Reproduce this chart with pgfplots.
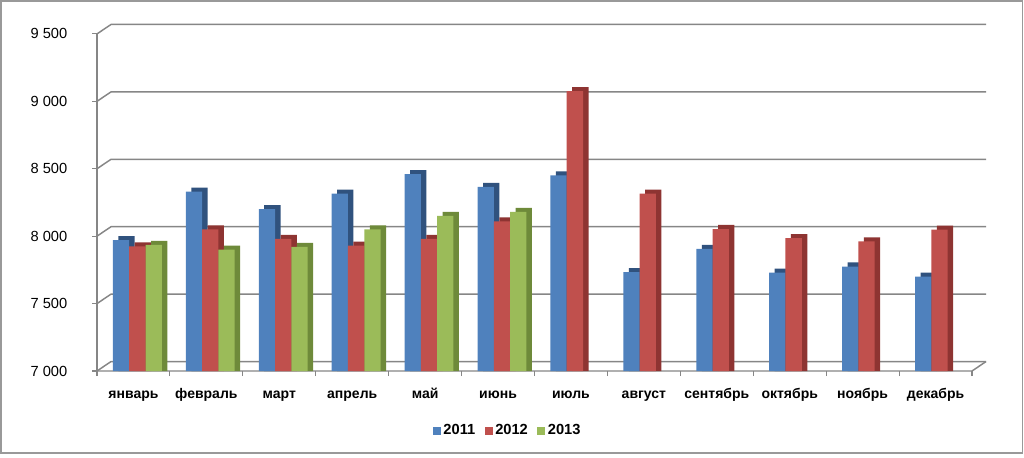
\documentclass[border=0pt]{standalone}
\usepackage{fontspec}
\setmainfont{Liberation Sans}
\usepackage{pgfplots}
\usepackage{pgfplotstable}
\pgfplotsset{compat=1.18}
\definecolor{bA}{HTML}{4F81BD}
\definecolor{bAd}{HTML}{30527E}
\definecolor{bB}{HTML}{C0504D}
\definecolor{bBd}{HTML}{8E3432}
\definecolor{bC}{HTML}{9BBB59}
\definecolor{bCd}{HTML}{6E8A3A}
\definecolor{gridc}{RGB}{134,134,134}
\pgfplotstableread{
x a b c
0 7970 7924 7935
1 8330 8050 7900
2 8200 7980 7920
3 8315 7930 8050
4 8460 7980 8150
5 8365 8110 8180
6 8450 9075 nan
7 7733 8315 nan
8 7906 8053 nan
9 7730 7986 nan
10 7775 7961 nan
11 7700 8048 nan
}\data
\begin{document}
\begin{tikzpicture}
\path (0,0) rectangle (768pt,342.75pt);
\draw[color=gray!80, line width=0.9pt] (0.75pt,3pt) rectangle (767pt,342pt);
\begin{axis}[
  at={(72.75pt,64.5pt)}, anchor=south west,
  scale only axis, width=666.75pt, height=259.9pt,
  xmin=-0.5, xmax=11.692, ymin=7000, ymax=9570,
  clip mode=individual,
  axis line style={draw=none},
  tick pos=left, tick align=outside,
  major tick length=3.75pt,
  tick style={gridc, line width=0.8pt},
  xtick={-0.5,0.5,...,11.5}, xticklabels={},
  extra x ticks={0,1,...,11},
  extra x tick labels={январь,февраль,март,апрель,май,июнь,июль,август,сентябрь,октябрь,ноябрь,декабрь},
  extra x tick style={major tick length=0pt},
  xticklabel style={font=\fontsize{10.5}{12}\selectfont\bfseries, anchor=base, yshift=-20.5pt},
  ytick={7000,7500,...,9500},
  yticklabels={7 000,7 500,8 000,8 500,9 000,9 500},
  yticklabel style={font=\fontsize{11}{13}\selectfont, anchor=east, xshift=-15pt},
  legend style={draw=none, fill=none, at={(0.4623,-0.1717)}, anchor=center,
    font=\fontsize{11}{13}\selectfont\bfseries, legend columns=3,
    /tikz/every even column/.append style={column sep=5pt}},
  legend image code/.code={\fill[#1] (0pt,-3pt) rectangle (6pt,3pt);},
]
% back wall gridlines and left wall diagonals
\pgfplotsinvokeforeach{7000,7500,8000,8500,9000,9500}{
  \draw[gridc, line width=1.1pt] (axis cs:-0.5,#1) -- (axis cs:-0.308,#1+70) -- (axis cs:11.692,#1+70);
}
\draw[gridc, line width=1.1pt] (axis cs:-0.5,7000) -- (axis cs:-0.5,9500);
\draw[gridc, line width=1.1pt] (axis cs:-0.5,7000) -- (axis cs:11.5,7000) -- (axis cs:11.692,7070);
% 2011
\addplot[ybar, bar width=0.2235, bar shift=-0.0946, fill=bAd, draw=none, forget plot,
  y filter/.expression={y+30}] table[x=x,y=a] {\data};
\addplot[ybar, bar width=0.2235, bar shift=-0.17, fill=bA, draw=none] table[x=x,y=a] {\data};
% 2012
\addplot[ybar, bar width=0.2235, bar shift=0.129, fill=bBd, draw=none, forget plot,
  y filter/.expression={y+30}] table[x=x,y=b] {\data};
\addplot[ybar, bar width=0.2235, bar shift=0.0535, fill=bB, draw=none] table[x=x,y=b] {\data};
% 2013
\addplot[ybar, bar width=0.2235, bar shift=0.3524, fill=bCd, draw=none, forget plot,
  y filter/.expression={y+30}] table[x=x,y=c] {\data};
\addplot[ybar, bar width=0.2235, bar shift=0.277, fill=bC, draw=none] table[x=x,y=c] {\data};
\legend{2011,2012,2013}
\end{axis}
\end{tikzpicture}
\end{document}
